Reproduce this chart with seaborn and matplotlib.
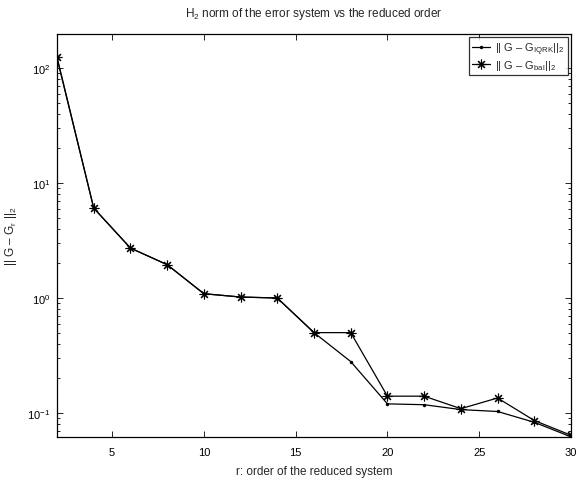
import matplotlib
matplotlib.use("Agg")
import matplotlib.pyplot as plt
import seaborn as sns
import pandas as pd
import numpy as np

r_order = [2, 4, 6, 8, 10, 12, 14, 16, 18, 20, 22, 24, 26, 28, 30]
err_iqrk = [122, 6.06, 2.72, 1.95, 1.09, 1.02, 1.0, 0.50, 0.28, 0.120, 0.118, 0.107, 0.103, 0.083, 0.062]
err_bal = [125, 6.06, 2.72, 1.95, 1.09, 1.02, 1.0, 0.50, 0.50, 0.140, 0.140, 0.109, 0.135, 0.086, 0.064]
x_ticks = [5, 10, 15, 20, 25, 30]

sns.set_style("ticks")
plt.rcParams["font.family"] = ["Liberation Sans", "DejaVu Sans"]
plt.rcParams["mathtext.fontset"] = "custom"
plt.rcParams["mathtext.rm"] = "Liberation Sans"
plt.rcParams["mathtext.it"] = "Liberation Sans"
plt.rcParams["mathtext.default"] = "regular"
plt.rcParams["xtick.direction"] = "in"
plt.rcParams["ytick.direction"] = "in"

df = pd.DataFrame({"r": r_order * 2,
                   "err": err_iqrk + err_bal,
                   "method": ["iqrk"] * len(r_order) + ["bal"] * len(r_order)})

fig = plt.figure(figsize=(5.76, 4.81), dpi=100)
ax = fig.add_axes([57/576, 1-438/481, (571-57)/576, (438-35)/481])

asterisk = (8, 2, 0)
sns.lineplot(data=df[df.method == "iqrk"], x="r", y="err", ax=ax, color="black",
             lw=0.9, marker="o", markersize=2.5, markeredgewidth=0,
             label=r"|| G – G$_{IQRK}$||$_2$")
sns.lineplot(data=df[df.method == "bal"], x="r", y="err", ax=ax, color="black",
             lw=0.9, marker=asterisk, markersize=7, markeredgewidth=0.8,
             markerfacecolor="black", markeredgecolor="black",
             label=r"|| G – G$_{bal}$||$_2$")

ax.set_yscale("log")
ax.set_xlim(2, 30)
ax.set_ylim(0.0618, 198)
ax.set_xticks(x_ticks)
ax.set_xticklabels([str(t) for t in x_ticks])
ax.tick_params(which="both", top=True, right=True, labelsize=8, width=0.6, colors="black")
ax.tick_params(which="major", length=4)
ax.tick_params(which="minor", length=2)
ax.tick_params(axis="x", pad=7)
ax.tick_params(axis="y", pad=5)
for s in ax.spines.values():
    s.set_linewidth(0.9)
    s.set_color("black")

ax.set_title(r"H$_2$ norm of the error system vs the reduced order", fontsize=8.5, pad=13)
ax.set_xlabel("r: order of the reduced system", fontsize=8.5, labelpad=6)
ax.set_ylabel(r"|| G – G$_r$ ||$_2$", fontsize=8.5, labelpad=6)

leg = ax.legend(loc="upper right", fontsize=8, frameon=True, fancybox=False,
                edgecolor="black", borderaxespad=0.3, handlelength=1.6,
                handletextpad=0.5, borderpad=0.25, labelspacing=0.15)
leg.get_frame().set_linewidth(0.9)

fig.savefig("out.png", dpi=100)
